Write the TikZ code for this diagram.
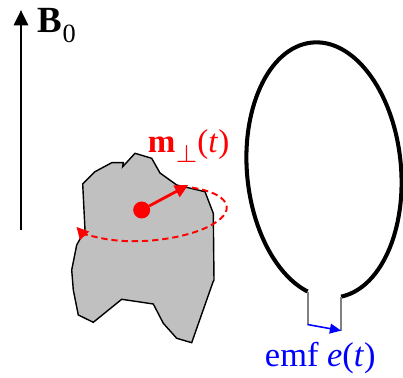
\documentclass[tikz,border=0pt]{standalone}
\usepackage{fontspec}
\setmainfont{Liberation Serif}
\usetikzlibrary{arrows.meta}
\definecolor{sample}{RGB}{192,192,192}
\begin{document}
\begin{tikzpicture}[every node/.style={inner sep=0pt, outer sep=0pt},
  coil/.style={line width=1.15pt},
  lead/.style={gray, line width=0.6pt}]
  \useasboundingbox (0,0) rectangle (4.03,3.78);

  % static field
  \coordinate (btail) at (0.21,1.48);
  \coordinate (bhead) at (0.21,3.68);
  \draw[line width=0.85pt, -{Triangle[length=4.4pt,width=4pt]}] (btail) -- (bhead);
  \node[anchor=base west, font=\fontsize{10.5}{12}\selectfont] (blabel) at (0.38,3.45)
    {\textbf{B}\raisebox{-2.8pt}{\fontsize{7.5}{8}\selectfont 0}};

  % sample
  \draw[fill=sample, line width=0.4pt] (1.35,2.247) -- (1.517,2.197) -- (1.60,2.05)
    -- (1.767,1.93) -- (2.05,1.863) -- (2.133,1.647) -- (2.14,0.98) -- (2.13,0.96)
    -- (1.917,0.353) -- (1.767,0.397) -- (1.633,0.547) -- (1.533,0.74) -- (1.217,0.787)
    -- (0.933,0.557) -- (0.783,0.63) -- (0.733,0.88) -- (0.717,1.08) -- (0.767,1.33)
    -- (0.85,1.48) -- (0.827,1.94) -- (0.95,2.063) -- (1.117,2.153) -- (1.233,2.153)
    -- (1.227,2.113) -- cycle;

  % precessing magnetisation
  \begin{scope}[shift={(1.50,1.645)}, rotate=5]
    \draw[red, line width=0.55pt, dash pattern=on 1.8pt off 1.1pt,
      -{Triangle[length=3.4pt,width=3.4pt]}]
      (55:0.77 and 0.27) arc[start angle=55, end angle=-165, x radius=0.77, y radius=0.27];
  \end{scope}
  \node[circle, fill=red, minimum size=0.17cm] (spin) at (1.417,1.68) {};
  \coordinate (mtip) at (1.883,1.93);
  \draw[red, line width=0.8pt, -{Triangle[length=3.8pt,width=3.6pt]}] (spin) -- (mtip);
  \node[red, anchor=base west, font=\fontsize{9.4}{11}\selectfont] (mlabel) at (1.48,2.25)
    {\textbf{m}\raisebox{-2.8pt}{$\scriptstyle\perp$}(\textit{t})};

  % pick-up coil
  \begin{scope}[shift={(3.24,2.08)}, rotate=5.3]
    \draw[coil] (-86:0.77 and 1.28) coordinate (rend)
      arc[start angle=-86, end angle=249, x radius=0.77, y radius=1.28] coordinate (lend);
  \end{scope}
  \draw[lead] (lend) -- ++(0,-0.33) coordinate (lfoot);
  \draw[lead] (rend) -- ++(0,-0.34) coordinate (rfoot);
  \draw[blue, line width=0.45pt, -{Triangle[length=3.2pt,width=2.8pt]}] (lfoot) -- (rfoot);
  \node[blue, anchor=base west, font=\fontsize{9.8}{11}\selectfont] (emf) at (2.65,0.11)
    {emf \textit{e}(\textit{t})};
\end{tikzpicture}
\end{document}
